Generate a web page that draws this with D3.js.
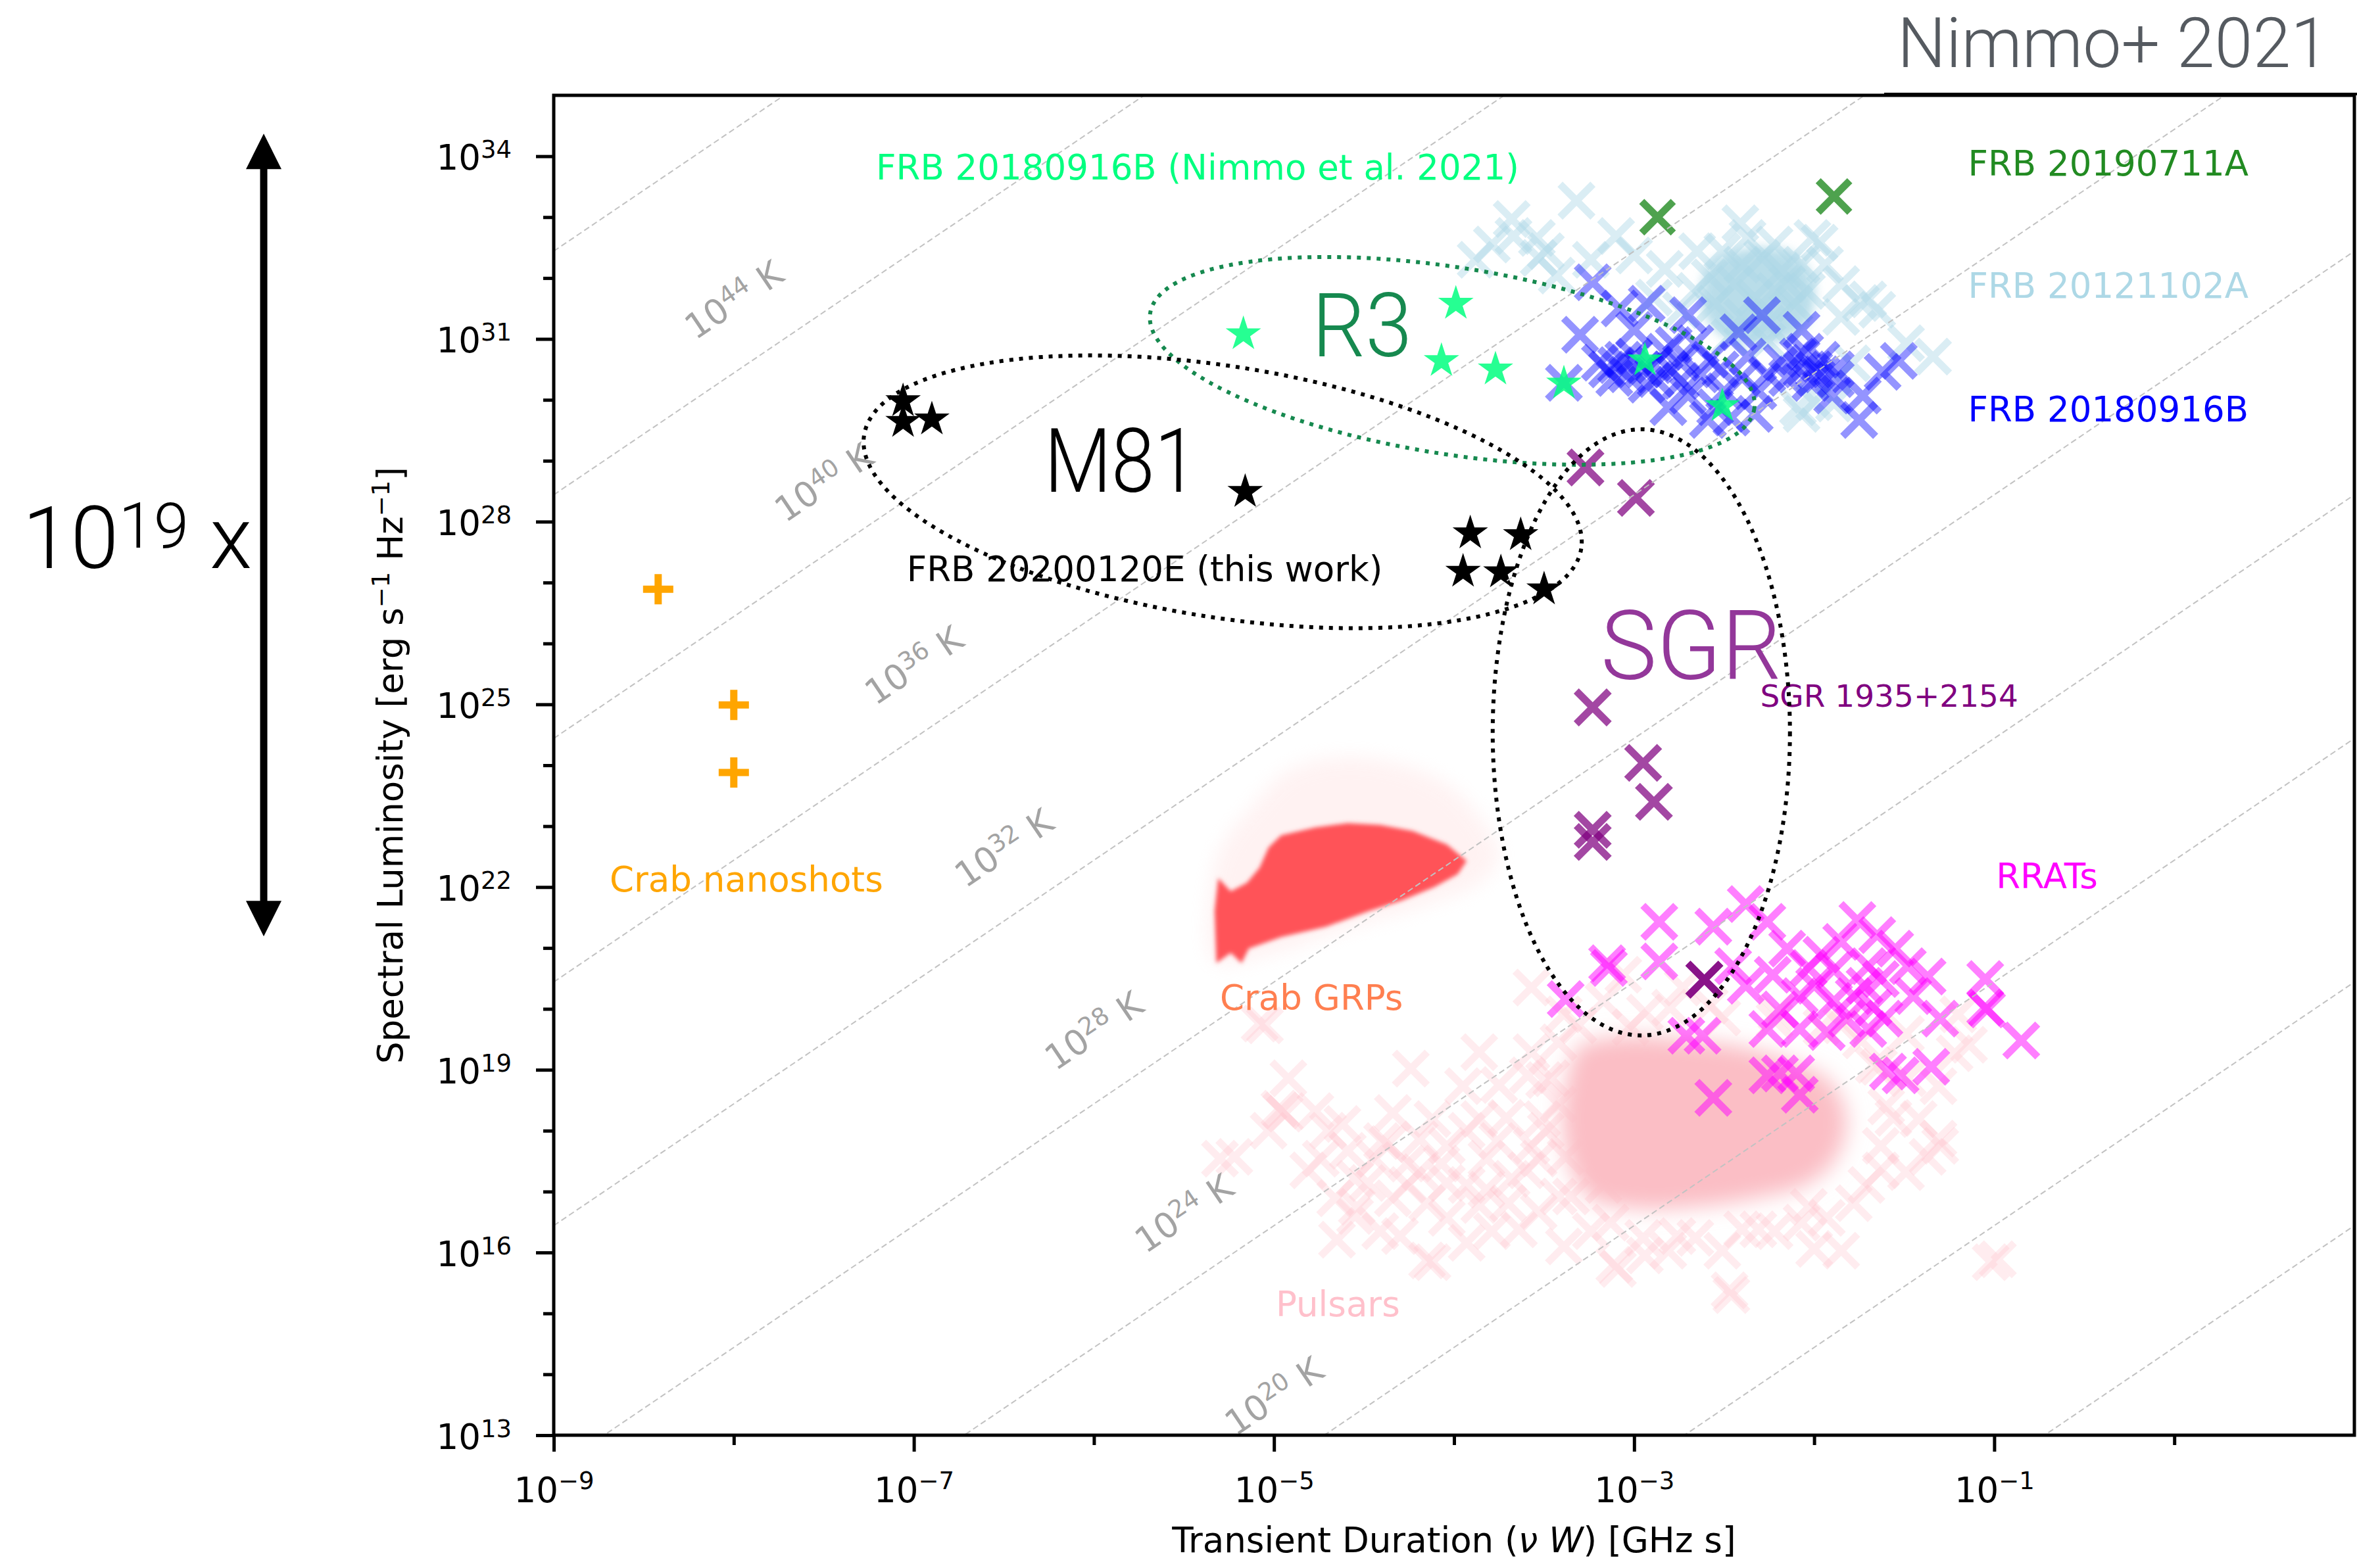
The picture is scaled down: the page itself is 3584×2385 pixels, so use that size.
<!DOCTYPE html>
<html>
<head>
<meta charset="utf-8">
<script src="https://cdn.jsdelivr.net/npm/d3@7"></script>
<style>
  body { margin: 0; background: #fff; }
  svg text { font-family: "DejaVu Sans", sans-serif; }
  .kn { font-family: Roboto, "Liberation Sans", sans-serif; font-weight: 300; }
</style>
</head>
<body>
<svg id="chart" width="3584" height="2385"></svg>
<script>
// All values as [log10(nu W / GHz s), log10(L / erg s^-1 Hz^-1)]
const crabNanoshots = [[-8.42,26.89],[-8.0,24.99],[-8.0,23.88]];

const frb20200120E = [[-7.06,29.98],[-7.06,29.64],[-6.90,29.68],[-5.16,28.49],[-3.91,27.81],
  [-3.63,27.78],[-3.95,27.18],[-3.74,27.17],[-3.50,26.89]];

const frb20180916B_nimmo = [[-5.17,31.08],[-3.99,31.58],[-4.07,30.64],[-3.77,30.50],
  [-3.39,30.27],[-2.94,30.65],[-2.51,29.90]];

const frb20190711A = [[-2.87,33.00],[-1.89,33.34]];

const sgr1935 = [[-3.27,28.89],[-2.99,28.39],[-3.23,24.95],[-2.95,24.04],[-2.89,23.40],
  [-3.23,22.94],[-3.23,22.74],[-2.61,20.48],[-2.61,20.48]];

const frb20180916B = [[-3.23,31.93],[-3.30,31.07],[-3.19,30.61],[-3.10,30.57],[-3.04,30.42],
  [-3.08,31.50],[-2.93,31.58],[-3.00,31.15],[-2.70,31.39],[-2.83,30.79],[-2.74,30.61],
  [-2.63,30.42],[-2.81,29.88],[-2.70,30.07],[-2.55,29.88],[-2.59,29.67],[-2.46,29.71],
  [-2.42,31.11],[-2.29,31.39],[-2.07,31.15],[-2.37,30.71],[-2.26,30.42],[-2.33,29.77],
  [-2.18,30.61],[-2.09,30.71],[-2.00,30.50],[-1.96,30.42],[-1.90,30.07],[-1.75,29.67],
  [-1.62,30.46],[-1.53,30.64],[-2.05,30.79],[-2.93,30.25],[-3.00,30.71],[-3.11,30.36],
  [-3.39,30.28],[-2.74,30.31],[-2.50,30.14],[-2.31,30.14],[-2.15,30.36],[-1.88,30.50],
  [-2.89,30.57],[-2.78,30.90],[-2.66,30.93],[-2.52,30.50],[-2.40,30.36],[-1.73,30.07],
  [-3.15,30.50],[-3.06,30.66],[-2.95,30.50],[-2.88,30.34],[-2.07,30.50],[-1.96,30.66],
  [-2.02,30.28],[-1.88,30.34],[-2.80,30.50],[-2.58,30.66]];

const frb20121102A = [[-3.32,33.27],[-3.88,32.30],[-3.67,32.69],[-3.54,32.66],[-3.49,32.44],
  [-3.10,32.69],[-3.00,32.37],[-3.24,32.30],[-3.43,32.04],[-2.65,32.44],[-2.41,32.90],
  [-2.01,32.66],[-1.94,32.22],[-1.70,31.65],[-1.85,31.36],[-1.79,30.60],[-2.09,29.88],
  [-2.00,29.96],[-2.26,30.96],[-2.83,32.15],[-2.89,31.68],[-1.97,32.58],[-1.74,31.59],
  [-1.65,31.48],[-1.89,29.94],[-2.07,29.77],[-3.68,32.97],[-3.53,32.33],[-3.79,32.55],
  [-1.34,30.71],[-1.49,30.93],[-2.51,32.44],[-2.40,32.22],[-2.29,32.33],[-2.18,32.12],
  [-2.44,31.90],[-2.33,31.68],[-2.22,31.79],[-2.11,31.58],[-2.55,31.58],[-2.40,31.36],
  [-2.26,31.25],[-2.15,31.90],[-2.58,32.01],[-2.07,32.22],[-2.66,31.79],[-2.22,32.55],
  [-2.37,32.66],[-2.04,31.79],[-2.47,31.03],[-2.74,31.47],[-1.85,31.90]];
// dense core of FRB 20121102A bursts
const frb20121102A_core = [[-2.58,32.22],[-2.37,32.49],[-2.11,32.39],[-2.00,31.90],
  [-2.04,31.25],[-2.22,30.93],[-2.47,30.98],[-2.62,31.47]];

const rrats = [[-2.86,21.43],[-2.56,21.35],[-2.38,21.72],[-2.26,21.43],[-3.14,20.67],
  [-2.86,20.78],[-3.38,20.16],[-2.62,19.56],[-2.71,19.56],[-2.45,20.70],[-2.38,20.38],
  [-2.23,20.56],[-2.15,20.99],[-2.08,20.21],[-2.19,19.99],[-2.26,19.67],[-2.08,19.67],
  [-1.76,21.46],[-1.65,21.21],[-1.55,20.99],[-1.85,21.10],[-1.89,20.64],[-1.70,20.70],
  [-1.63,20.49],[-2.00,20.38],[-1.89,20.13],[-1.78,20.21],[-1.67,20.02],[-1.82,19.84],
  [-1.93,19.62],[-1.70,19.67],[-1.61,19.84],[-1.37,20.53],[-1.30,19.84],[-1.45,20.21],
  [-1.05,20.49],[-1.04,19.99],[-0.85,19.48],[-1.59,18.97],[-1.52,18.91],[-1.35,19.05],
  [-2.26,18.91],[-2.19,18.94],[-2.08,18.59],[-2.56,18.54],[-2.10,18.94],[-1.48,20.70],
  [-1.72,20.38],[-1.05,20.02],[-3.15,20.75],[-2.03,20.67],[-1.96,20.89]];

const pulsars = [[-5.05,19.73],[-4.24,19.02],[-4.96,18.33],[-5.22,17.57],[-4.62,18.11],
  [-3.95,18.73],[-4.65,16.21],[-4.12,15.84],[-3.09,15.73],[-2.46,15.30],[-2.03,16.75],
  [-1.30,17.75],[-1.02,15.84],[-1.22,19.27],[-3.39,16.10],[-2.81,16.03],[-2.31,16.38],
  [-4.54,16.75],[-3.70,16.81],[-4.26,17.11],[-4.07,17.46],[-4.40,17.83],[-3.76,17.83],
  [-3.51,18.19],[-3.59,18.91],[-3.42,19.45],[-1.31,17.87],[-1.14,19.41],[-0.98,15.89],
  [-5.08,19.76],[-4.94,18.28],[-5.30,17.54],[-4.97,18.36],[-4.15,15.87],[-3.11,15.80],
  [-2.47,15.38],[-4.74,17.54],[-4.55,17.21],[-4.44,17.54],[-4.34,16.89],[-4.19,17.32],
  [-4.04,17.75],[-3.93,17.11],[-3.82,17.54],[-3.68,17.21],[-3.57,17.75],[-3.86,18.19],
  [-4.12,18.19],[-4.34,18.29],[-4.66,16.89],[-4.04,16.57],[-3.79,16.35],[-3.53,16.67],
  [-4.41,16.35],[-3.86,16.78],[-4.19,17.86],[-3.39,19.91],[-3.17,20.13],[-3.24,16.35],
  [-2.95,16.24],[-2.66,16.24],[-2.22,16.35],[-1.93,16.57],[-1.71,17.11],[-1.63,17.75],
  [-1.60,18.40],[-1.64,19.05],[-1.74,19.48],[-1.96,19.70],[-2.22,19.81],[-2.51,19.86],
  [-2.80,20.02],[-3.02,19.70],[-3.50,18.83],[-3.53,17.54],[-1.49,17.32],[-1.42,18.19],
  [-1.31,18.73],[-1.85,16.03],[-2.51,16.03],[-3.17,17.11],[-1.20,19.91],[-1.49,19.59],
  [-2.73,20.35],[-3.06,20.56],[-3.57,20.35],
  [-4.81,17.35],[-4.70,18.00],[-4.59,17.67],[-4.48,17.14],[-4.37,17.78],[-4.26,17.46],
  [-4.15,16.81],[-4.04,17.14],[-3.93,18.00],[-3.82,17.03],[-3.71,18.21],[-3.60,17.35],
  [-3.49,18.00],[-3.42,16.92],[-4.55,16.60],[-4.30,16.27],[-3.93,16.16],[-3.64,16.38],
  [-3.46,18.86],[-3.57,19.29],[-3.31,19.73],[-2.94,19.94],[-2.58,20.05],[-2.21,19.94],
  [-1.85,19.73],[-1.67,19.08],[-1.56,18.21],[-1.63,17.35],[-1.78,16.81],[-2.07,16.49],
  [-2.40,16.38],[-2.76,16.27],[-3.13,16.49],[-3.35,16.92],[-3.38,17.57],[-3.42,18.43],
  [-1.48,18.86],[-1.37,17.57],[-2.00,16.06],[-2.94,15.95],[-4.92,18.86],[-5.03,18.00],
  [-4.77,18.32],[-3.75,18.75],[-3.86,19.29]];
// dense core of the pulsar population
const pulsarCore = [[-3.31,19.37],[-3.06,19.55],[-2.73,19.50],[-2.40,19.37],[-2.11,19.12],
  [-1.91,18.80],[-1.82,18.19],[-1.88,17.54],[-2.05,17.11],[-2.33,16.89],[-2.62,16.76],
  [-2.98,16.72],[-3.25,16.90],[-3.36,17.43],[-3.40,18.19],[-3.37,18.90]];

// Crab giant radio pulses: solid region and faint outskirts
const crabGRPs = [[-5.32,20.75],[-5.24,20.92],[-5.18,20.75],[-5.14,20.99],[-4.96,21.18],
  [-4.71,21.35],[-4.47,21.61],[-4.29,21.78],[-4.11,22.00],[-3.98,22.21],[-3.93,22.43],
  [-4.04,22.70],[-4.23,22.92],[-4.41,23.02],[-4.59,23.05],[-4.77,22.98],[-4.96,22.85],
  [-5.03,22.65],[-5.08,22.32],[-5.15,22.07],[-5.24,21.93],[-5.31,22.15],[-5.33,21.61]];
const crabGRPsHalo = [[-5.33,20.78],[-5.34,22.18],[-5.28,22.72],[-5.14,23.26],[-4.92,23.91],
  [-4.63,24.13],[-4.30,24.02],[-4.04,23.69],[-3.86,23.15],[-3.75,22.51],[-3.86,22.07],
  [-4.12,21.75],[-4.59,21.32],[-5.03,20.89]];

// axis ticks (decade exponents)
const xTickExp = [-9,-8,-7,-6,-5,-4,-3,-2,-1,0];
const xLabelExp = [-9,-7,-5,-3,-1];
const yTickExp = d3.range(13, 35);
const yLabelExp = [13,16,19,22,25,28,31,34];

// brightness-temperature lines and their labels
const tempExp = [12,16,20,24,28,32,36,40,44,48];
const tempLabelExp = [44,40,36,32,28,24,20];
const tempLabelLogX = [-8.0,-7.5,-7.0,-6.5,-6.0,-5.5,-5.0];

// population labels [text, logX, logL]
const labels = [
  ["FRB 20180916B (Nimmo et al. 2021)", -7.21, 33.62],
  ["FRB 20190711A", -1.146, 33.68],
  ["FRB 20121102A", -1.146, 31.67],
  ["FRB 20180916B", -1.146, 29.65],
  ["SGR 1935+2154", -2.30, 24.96],
  ["RRATs", -0.99, 21.98],
  ["Crab nanoshots", -8.69, 21.93],
  ["Crab GRPs", -5.30, 19.98],
  ["Pulsars", -4.99, 14.95],
  ["FRB 20200120E (this work)", -7.04, 27.02]
];
const labelColor = ["#00ff7f", "#228b22", "#add8e6", "#0000ff", "#800080",
  "#ff00ff", "#ffa500", "#ff7f50", "#ffc0cb", "#000000"];
const labelSize = ["53px", "53px", "53px", "53px", "47px", "53px", "53px", "53px", "53px", "53px"];

// hand-drawn groupings: centre [logX, logL]
const groups = [
  {c: [-4.01, 30.64], rx: 465, ry: 142, rot: 9, color: "#16894f"},
  {c: [-5.285, 28.49], rx: 552, ry: 191, rot: 9, color: "#000"},
  {c: [-2.96, 24.54], rx: 226, ry: 461, rot: 0, color: "#000"}
];
const arrowSpan = [34.37, 21.19];   // log L at the two arrow tips

const svg = d3.select("#chart"),
      margin = {top: 145, right: 4, bottom: 202, left: 842},
      width = +svg.attr("width") - margin.left - margin.right,
      height = +svg.attr("height") - margin.top - margin.bottom;

svg.append("rect").attr("width", 3584).attr("height", 2385).attr("fill", "#fff");

const defs = svg.append("defs");
defs.append("clipPath").attr("id", "clip")
  .append("rect").attr("width", width).attr("height", height);
[["blur3", 3], ["blur8", 8], ["blur14", 14], ["blur16", 16]].forEach(([id, s]) => {
  defs.append("filter").attr("id", id)
    .attr("x", "-30%").attr("y", "-30%").attr("width", "160%").attr("height", "160%")
    .append("feGaussianBlur").attr("stdDeviation", s);
});

const g = svg.append("g").attr("transform", `translate(${margin.left},${margin.top})`);

const x = d3.scaleLog().domain([1e-9, 1e1]).range([0, width]);
const y = d3.scaleLog().domain([1e13, 1e35]).range([height, 0]);
const px = d => x(Math.pow(10, d[0])),
      py = d => y(Math.pow(10, d[1]));

const plot = g.append("g").attr("clip-path", "url(#clip)");

const xPath = s => `M${-s},${-s}L${s},${s}M${-s},${s}L${s},${-s}`;
const plusPath = s => `M${-s},0L${s},0M0,${-s}L0,${s}`;

function drawMarks(data, path, color, opacity, sw) {
  plot.append("g").selectAll("path")
    .data(data)
    .enter().append("path")
      .attr("transform", d => `translate(${px(d)},${py(d)})`)
      .attr("d", path)
      .attr("fill", "none")
      .attr("stroke", color)
      .attr("stroke-width", sw)
      .attr("opacity", opacity);
}
function drawStars(data, color, opacity) {
  plot.append("g").selectAll("path")
    .data(data)
    .enter().append("path")
      .attr("transform", d => `translate(${px(d)},${py(d)})`)
      .attr("d", d3.symbol().type(d3.symbolStar).size(900))
      .attr("fill", color)
      .attr("opacity", opacity);
}
const area = d3.line().x(px).y(py).curve(d3.curveCatmullRomClosed);

// pulsars
drawMarks(pulsars, xPath(25), "pink", 0.3, 11);
plot.append("path").datum(pulsarCore).attr("d", area)
  .attr("fill", "#fbbec5").attr("filter", "url(#blur16)");

// Crab GRPs
plot.append("path").datum(crabGRPsHalo).attr("d", area)
  .attr("fill", "#ffe3e3").attr("opacity", 0.45).attr("filter", "url(#blur14)");
plot.append("path").datum(crabGRPs).attr("d", d3.line().x(px).y(py).curve(d3.curveLinearClosed))
  .attr("fill", "#ff5358").attr("filter", "url(#blur3)");

drawMarks(rrats, xPath(25), "#ff00ff", 0.5, 11);
drawMarks(sgr1935, xPath(25), "#800080", 0.72, 11);

plot.append("path").datum(frb20121102A_core).attr("d", area)
  .attr("fill", "#add8e6").attr("opacity", 0.85).attr("filter", "url(#blur8)");
drawMarks(frb20121102A, xPath(25), "#add8e6", 0.45, 11);
drawMarks(frb20180916B, xPath(25), "#0000ff", 0.42, 11);
drawMarks(frb20190711A, xPath(24), "#228b22", 0.8, 11);
drawMarks(crabNanoshots, plusPath(23), "#ffa500", 1, 11);
drawStars(frb20180916B_nimmo, "#00ff7f", 0.85);
drawStars(frb20200120E, "#000", 1);

// brightness temperature lines: L = 2 k T (nu W)^2
const kLog = Math.log10(2 * 1.380649e-16 * 1e18);
const tLine = d3.line().x(px).y(py);
plot.append("g").selectAll("path")
  .data(tempExp)
  .enter().append("path")
    .attr("d", t => tLine([[-9, kLog + t - 18], [1, kLog + t + 2]]))
    .attr("fill", "none")
    .attr("stroke", "#c2c2c2")
    .attr("stroke-width", 2)
    .attr("stroke-dasharray", "9 5");

const ang = Math.atan2(y(1e13) - y(1e15), x(1e-8) - x(1e-9)) * 180 / Math.PI;
tempLabelExp.forEach((t, i) => {
  const lx = tempLabelLogX[i], lL = kLog + t + 2 * lx + 1.2;
  const tx = g.append("text")
    .attr("transform", `translate(${px([lx, lL])},${py([lx, lL])}) rotate(${-ang})`)
    .attr("text-anchor", "middle")
    .attr("dy", "0.35em")
    .style("font-size", "53px")
    .style("fill", "#a3a3a3");
  tx.append("tspan").text("10");
  tx.append("tspan").attr("dy", -18).style("font-size", "37px").text(t);
  tx.append("tspan").attr("dy", 18).text(" K");
});

// axes
const xAxis = g.append("g").attr("transform", `translate(0,${height})`)
  .call(d3.axisBottom(x).tickValues(xTickExp.map(e => Math.pow(10, e))).tickFormat("").tickSizeOuter(0));
xAxis.select(".domain").remove();
xAxis.selectAll(".tick line")
  .attr("y2", d => xLabelExp.includes(Math.round(Math.log10(d))) ? 25 : 15)
  .attr("stroke", "#000").attr("stroke-width", 5);
xAxis.selectAll(".tick").filter(d => xLabelExp.includes(Math.round(Math.log10(d))))
  .append("text")
    .attr("y", 102).attr("text-anchor", "middle")
    .style("font-size", "53px").style("fill", "#000")
    .each(function(d) {
      const t = d3.select(this);
      t.append("tspan").text("10");
      t.append("tspan").attr("dy", -20).style("font-size", "37px")
        .text("\u2212" + Math.abs(Math.round(Math.log10(d))));
    });

const yAxis = g.append("g")
  .call(d3.axisLeft(y).tickValues(yTickExp.map(e => Math.pow(10, e))).tickFormat("").tickSizeOuter(0));
yAxis.select(".domain").remove();
yAxis.selectAll(".tick line")
  .attr("x2", d => yLabelExp.includes(Math.round(Math.log10(d))) ? -27 : -16)
  .attr("stroke", "#000").attr("stroke-width", 5);
yAxis.selectAll(".tick").filter(d => yLabelExp.includes(Math.round(Math.log10(d))))
  .append("text")
    .attr("x", -64).attr("y", 20).attr("text-anchor", "end")
    .style("font-size", "53px").style("fill", "#000")
    .each(function(d) {
      const t = d3.select(this);
      t.append("tspan").text("10");
      t.append("tspan").attr("dy", -18).style("font-size", "37px").text(Math.round(Math.log10(d)));
    });

g.append("rect").attr("width", width).attr("height", height)
  .attr("fill", "none").attr("stroke", "#000").attr("stroke-width", 5);

// axis titles
const xt = g.append("text")
  .attr("x", width / 2).attr("y", height + 178)
  .attr("text-anchor", "middle").style("font-size", "53px");
xt.append("tspan").text("Transient Duration (");
xt.append("tspan").style("font-style", "italic").text("\u03bd W");
xt.append("tspan").text(") [GHz s]");

const yt = svg.append("text")
  .attr("transform", `translate(612,${margin.top + height / 2}) rotate(-90)`)
  .attr("text-anchor", "middle").style("font-size", "53px");
yt.append("tspan").text("Spectral Luminosity [erg s");
yt.append("tspan").attr("dy", -20).style("font-size", "37px").text("\u22121");
yt.append("tspan").attr("dy", 20).text(" Hz");
yt.append("tspan").attr("dy", -20).style("font-size", "37px").text("\u22121");
yt.append("tspan").attr("dy", 20).text("]");

// population labels
g.selectAll("text.lab")
  .data(labels)
  .enter().append("text")
    .attr("class", "lab")
    .attr("x", d => px([d[1], d[2]]))
    .attr("y", d => py([d[1], d[2]]))
    .style("font-size", (d, i) => labelSize[i])
    .style("fill", (d, i) => labelColor[i])
    .text(d => d[0]);

// hand-drawn groupings
g.selectAll("ellipse")
  .data(groups)
  .enter().append("ellipse")
    .attr("transform", d => `translate(${px(d.c)},${py(d.c)}) rotate(${d.rot})`)
    .attr("rx", d => d.rx).attr("ry", d => d.ry)
    .attr("fill", "none")
    .attr("stroke", d => d.color)
    .attr("stroke-width", 6)
    .attr("stroke-dasharray", "6 9");

g.append("text").attr("class", "kn").attr("x", 1995 - margin.left).attr("y", 542 - margin.top)
  .attr("textLength", 152).attr("lengthAdjust", "spacingAndGlyphs")
  .style("font-size", "136px").style("fill", "#16894f").text("R3");
g.append("text").attr("class", "kn").attr("x", 1588 - margin.left).attr("y", 748 - margin.top)
  .attr("textLength", 233).attr("lengthAdjust", "spacingAndGlyphs")
  .style("font-size", "136px").style("fill", "#000").text("M81");
g.append("text").attr("class", "kn").attr("x", 2434 - margin.left).attr("y", 1033 - margin.top)
  .attr("textLength", 275).attr("lengthAdjust", "spacingAndGlyphs")
  .style("font-size", "146px").style("fill", "#93379a").text("SGR");

// slide annotations
svg.append("text").attr("class", "kn").attr("x", 2885).attr("y", 102)
  .attr("textLength", 656).attr("lengthAdjust", "spacingAndGlyphs")
  .style("font-size", "106px").style("fill", "#555a60").text("Nimmo+ 2021");
svg.append("line").attr("x1", 2865).attr("x2", 3584).attr("y1", 143).attr("y2", 143)
  .attr("stroke", "#000").attr("stroke-width", 4);

const ax = 401, aTop = margin.top + py([0, arrowSpan[0]]), aBot = margin.top + py([0, arrowSpan[1]]);
svg.append("line").attr("x1", ax).attr("x2", ax).attr("y1", aTop + 40).attr("y2", aBot - 40)
  .attr("stroke", "#000").attr("stroke-width", 11);
svg.append("path").attr("d", `M${ax},${aTop}L${ax - 27},${aTop + 54}L${ax + 27},${aTop + 54}Z`).attr("fill", "#000");
svg.append("path").attr("d", `M${ax},${aBot}L${ax - 27},${aBot - 54}L${ax + 27},${aBot - 54}Z`).attr("fill", "#000");

const big = svg.append("text").attr("class", "kn").attr("x", 34).attr("y", 864)
  .style("font-size", "132px").style("fill", "#000");
big.append("tspan").text("10");
big.append("tspan").attr("dy", -31).style("font-size", "96px").text("19");
big.append("tspan").attr("dy", 31).text(" x");
</script>
</body>
</html>
